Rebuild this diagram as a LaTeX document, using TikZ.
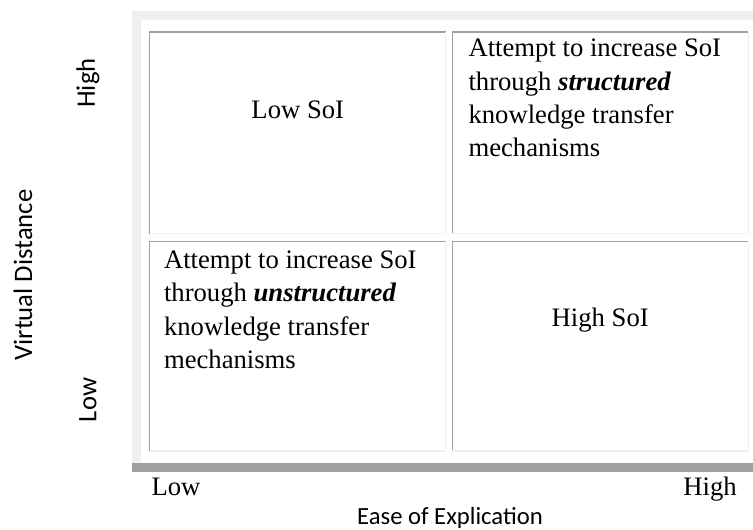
\documentclass[tikz,border=0pt]{standalone}
\usepackage{fontspec}
\setmainfont{Liberation Serif}
\newfontfamily\axisfont{Carlito}
\usetikzlibrary{positioning}
\definecolor{framegray}{HTML}{EFEFEF}
\definecolor{edgegray}{HTML}{A0A0A0}
\definecolor{paleedge}{HTML}{F0F0F0}

\begin{document}
\begin{tikzpicture}[x=0.75pt,y=-0.75pt,
        cell/.style={rectangle,inner sep=0pt,minimum width=221.6pt},
        celltext/.style={inner sep=0pt,font=\fontsize{20}{25}\selectfont},
        bigtext/.style={celltext,anchor=base west,text width=205pt,align=flush left},
        axislabel/.style={inner sep=0pt,font=\axisfont\fontsize{20}{22}\selectfont},
        scalelabel/.style={inner sep=0pt,anchor=base,font=\fontsize{20}{24}\selectfont}]
    \useasboundingbox (0,0) rectangle (753,530);
    \fill[framegray] (132,11) rectangle (753,463);
    \fill[white] (141,20) rectangle (753,463);
    \fill[edgegray] (132,463) rectangle (753,472);
    \node[cell,minimum height=151pt] (tl) at (297.75,132.85) {};
    \node[cell,minimum height=151pt] (tr) at (600.25,132.85) {};
    \node[cell,minimum height=156.75pt] (bl) at (297.75,346.3) {};
    \node[cell,minimum height=156.75pt] (br) at (600.25,346.3) {};
    \foreach \c in {tl,tr,bl,br}{
        \draw[edgegray,line width=1pt] (\c.south west) |- (\c.north east);
        \draw[paleedge,line width=1pt] (\c.south west) -| (\c.north east);
    }
    \node[celltext,anchor=base] (lowsoi) at ([yshift=11pt]tl.center) {Low SoI};
    \node[celltext,anchor=base] (highsoi) at ([yshift=14.5pt]br.center) {High SoI};
    \node[bigtext] (structured) at ([xshift=12pt,yshift=-18.6pt]tr.north west)
        {Attempt to increase SoI\\ through \textbf{\textit{structured}}\\ knowledge transfer\\ mechanisms};
    \node[bigtext] (unstructured) at ([xshift=10.5pt,yshift=-20.2pt]bl.north west)
        {Attempt to increase SoI\\ through \textbf{\textit{unstructured}}\\ knowledge transfer\\ mechanisms};
    \node[axislabel,rotate=90] (vhigh) at (88,83) {High};
    \node[axislabel,rotate=90] (vlow) at (88,400) {Low};
    \node[axislabel,rotate=90] (vdist) at (23,275) {Virtual Distance};
    \node[axislabel,anchor=base,font=\axisfont\fontsize{18.5}{22}\selectfont] (ease) at (450,524) {Ease of Explication};
    \node[scalelabel] (elow) at (176,495) {Low};
    \node[scalelabel] (ehigh) at (710,496) {High};
\end{tikzpicture}
\end{document}
